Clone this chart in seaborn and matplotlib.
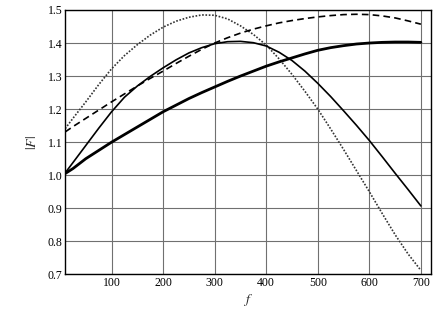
import numpy as np
import pandas as pd
import seaborn as sns
import matplotlib
matplotlib.use("Agg")
import matplotlib.pyplot as plt

# values
f = [10, 25, 50, 75, 100, 125, 150, 175, 200, 225, 250, 275, 300, 325, 350,
     375, 400, 425, 450, 475, 500, 525, 550, 575, 600, 625, 650, 675, 700]
dotted = [1.141, 1.172, 1.222, 1.274, 1.322, 1.362, 1.395, 1.424, 1.448, 1.466,
          1.478, 1.485, 1.484, 1.473, 1.452, 1.426, 1.394, 1.352, 1.305, 1.254,
          1.200, 1.140, 1.078, 1.014, 0.950, 0.884, 0.820, 0.762, 0.712]
dashed = [1.131, 1.147, 1.172, 1.197, 1.222, 1.246, 1.270, 1.293, 1.315, 1.338,
          1.360, 1.381, 1.400, 1.416, 1.430, 1.442, 1.452, 1.461, 1.468, 1.474,
          1.479, 1.483, 1.486, 1.487, 1.486, 1.482, 1.476, 1.467, 1.457]
thin = [1.007, 1.038, 1.090, 1.142, 1.192, 1.236, 1.270, 1.299, 1.325, 1.349,
        1.370, 1.386, 1.398, 1.404, 1.405, 1.401, 1.391, 1.372, 1.347, 1.315,
        1.278, 1.238, 1.195, 1.151, 1.105, 1.056, 1.006, 0.957, 0.907]
thick = [1.005, 1.020, 1.050, 1.075, 1.100, 1.123, 1.146, 1.169, 1.192, 1.212,
         1.232, 1.250, 1.267, 1.284, 1.300, 1.315, 1.330, 1.343, 1.355, 1.367,
         1.378, 1.386, 1.392, 1.397, 1.400, 1.402, 1.403, 1.403, 1.402]

sns.set_style("whitegrid")
plt.rcParams['font.family'] = ['Liberation Serif', 'DejaVu Serif']
plt.rcParams['mathtext.fontset'] = 'stix'

fig = plt.figure(figsize=(4.36, 3.27), dpi=100)
ax = fig.add_axes([0.1495, 0.161, 0.8395, 0.8085])

sns.lineplot(x=f, y=dotted, ax=ax, color='#333333', lw=1.2, linestyle=(0, (1, 1)))
sns.lineplot(x=f, y=dashed, ax=ax, color='black', lw=1.2, linestyle=(0, (4, 2.5)))
sns.lineplot(x=f, y=thin, ax=ax, color='black', lw=1.2)
sns.lineplot(x=f, y=thick, ax=ax, color='black', lw=2.0)

ax.set_xlim(10, 720)
ax.set_ylim(0.7, 1.5)
ax.set_xticks([100, 200, 300, 400, 500, 600, 700])
ax.set_yticks(np.arange(0.7, 1.51, 0.1))
ax.set_yticklabels(['0.7', '0.8', '0.9', '1.0', '1.1', '1.2', '1.3', '1.4', '1.5'])
ax.tick_params(length=0, pad=2, labelsize=8.5, colors='black')
ax.grid(True, color='#707070', lw=0.8)
for s in ax.spines.values():
    s.set_color('black')
    s.set_linewidth(1.0)

ax.set_xlabel('$f$', fontsize=10, labelpad=2)
ax.set_ylabel('$|F|$', fontsize=10, labelpad=6)

fig.savefig('out.png', dpi=100)
